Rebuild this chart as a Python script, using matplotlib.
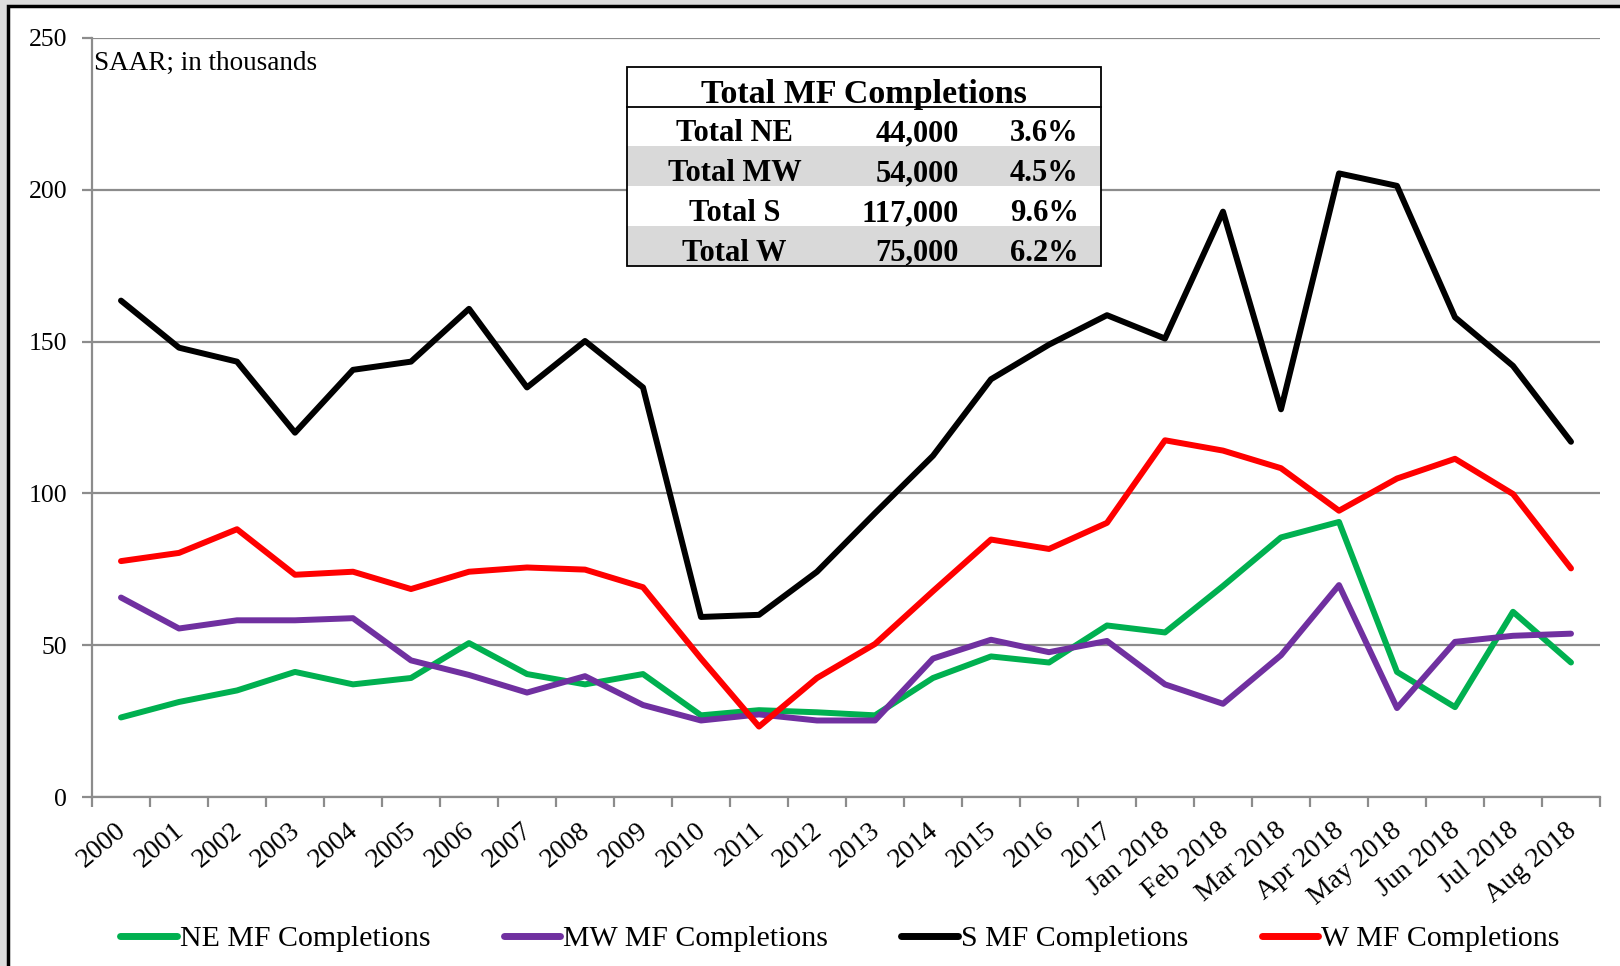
import numpy as np
import matplotlib.pyplot as plt
import matplotlib.transforms as mtransforms
from matplotlib.patches import Rectangle

plt.rcParams['font.family'] = ['Liberation Serif', 'DejaVu Serif']

# Categories
labels = [str(y) for y in range(2000, 2018)] + [
    'Jan 2018', 'Feb 2018', 'Mar 2018', 'Apr 2018',
    'May 2018', 'Jun 2018', 'Jul 2018', 'Aug 2018']

# Series values (SAAR, thousands)
ne = [26.2, 31.3, 35.1, 41.2, 37.1, 39.2, 50.7, 40.5, 37.1, 40.5, 26.9, 28.6, 27.9,
      26.9, 39.2, 46.3, 44.3, 56.5, 54.2, 69.5, 85.5, 90.6, 41.2, 29.6, 61.0, 44.3]
mw = [65.7, 55.5, 58.2, 58.2, 58.9, 45.0, 40.2, 34.4, 39.8, 30.3, 25.2, 27.2, 25.2,
      25.2, 45.6, 51.8, 47.7, 51.4, 37.1, 30.7, 46.7, 69.8, 29.3, 51.1, 53.1, 53.8]
s = [163.5, 148.0, 143.4, 120.0, 140.7, 143.4, 160.8, 134.9, 150.2, 134.9, 59.3, 60.0,
     74.2, 93.5, 112.4, 137.6, 149.0, 158.7, 151.0, 192.8, 127.7, 205.4, 201.3, 158.0,
     142.0, 117.0]
w = [77.7, 80.4, 88.2, 73.2, 74.2, 68.5, 74.2, 75.6, 74.9, 69.1, 45.6, 23.2, 39.2,
     50.4, 67.8, 84.8, 81.7, 90.3, 117.5, 114.1, 108.3, 94.3, 104.9, 111.4, 99.8, 75.3]

# Inset table
table_title = 'Total MF Completions'
table_names = ['Total NE', 'Total MW', 'Total S', 'Total W']
table_totals = ['44,000', '54,000', '117,000', '75,000']
table_shares = ['3.6%', '4.5%', '9.6%', '6.2%']

fig = plt.figure(figsize=(16.2, 9.66), dpi=100, facecolor='#dcdcdc')
# white chart panel with black frame
fig.patches.append(Rectangle((8 / 1620, -0.01), 1.0, 1 - 6 / 966 + 0.01,
                             transform=fig.transFigure, facecolor='white',
                             edgecolor='black', linewidth=2.5, zorder=-10))

ax = fig.add_axes([92 / 1620, 1 - 797 / 966, (1600 - 92) / 1620, (797 - 38) / 966])
ax.set_facecolor('none')

x = np.arange(len(labels))
ax.plot(x, ne, color='#00B050', lw=4.3, label='NE MF Completions', solid_capstyle='round')
ax.plot(x, mw, color='#7030A0', lw=4.3, label='MW MF Completions', solid_capstyle='round')
ax.plot(x, s, color='black', lw=4.3, label='S MF Completions', solid_capstyle='round')
ax.plot(x, w, color='#FF0000', lw=4.3, label='W MF Completions', solid_capstyle='round')

ax.set_xlim(-0.5, len(labels) - 0.5)
ax.set_ylim(0, 250)
ax.set_yticks(range(0, 251, 50))
ax.yaxis.grid(True, color='#8c8c8c', lw=1.6)
ax.set_axisbelow(True)

ax.set_xticks(x)
ax.set_xticklabels(labels, rotation=40, ha='right', rotation_mode='anchor')
ax.set_xticks(np.arange(-0.5, len(labels), 1), minor=True)
ax.tick_params(axis='x', which='major', length=0, pad=15, labelsize=20)
ax.tick_params(axis='x', which='minor', length=7, color='#8c8c8c', width=1.6, direction='out')
ax.tick_params(axis='y', length=7, color='#8c8c8c', width=1.6, labelsize=18.5, pad=11)
shift = mtransforms.ScaledTranslation(-6 / 100, 0, fig.dpi_scale_trans)
for lab in ax.get_xticklabels():
    lab.set_transform(lab.get_transform() + shift)

for side in ['top', 'right']:
    ax.spines[side].set_visible(False)
for side in ['left', 'bottom']:
    ax.spines[side].set_color('#8c8c8c')
    ax.spines[side].set_linewidth(1.6)

ax.text(0.001, 0.966, 'SAAR; in thousands', transform=ax.transAxes, fontsize=19.5,
        ha='left', va='center')

# table drawn in axes fraction coordinates
tx0, tx1 = (627 - 92) / 1508, (1101 - 92) / 1508
ty_top = (797 - 67) / 759
row_h = 39.8 / 759
title_h = 39.5 / 759
ty_bot = ty_top - title_h - 4 * row_h
for i in range(4):
    y0 = ty_top - title_h - (i + 1) * row_h
    fc = '#d9d9d9' if i % 2 == 1 else 'white'
    ax.add_patch(Rectangle((tx0, y0), tx1 - tx0, row_h, transform=ax.transAxes,
                           facecolor=fc, edgecolor='none', zorder=5))
ax.add_patch(Rectangle((tx0, ty_top - title_h), tx1 - tx0, title_h, transform=ax.transAxes,
                       facecolor='white', edgecolor='none', zorder=5))
ax.add_patch(Rectangle((tx0, ty_bot), tx1 - tx0, ty_top - ty_bot, transform=ax.transAxes,
                       facecolor='none', edgecolor='black', lw=1.3, zorder=6))
ax.plot([tx0, tx1], [ty_top - title_h] * 2, transform=ax.transAxes, color='black',
        lw=1.3, zorder=6)
ax.text((tx0 + tx1) / 2, ty_top - title_h / 2 - 0.010, table_title, transform=ax.transAxes,
        fontsize=24.5, fontweight='bold', ha='center', va='center', zorder=7)
for i in range(4):
    yc = ty_top - title_h - (i + 0.5) * row_h - 0.010
    ax.text((711 * 1.0332 - 92) / 1508, yc, table_names[i], transform=ax.transAxes,
            fontsize=22, fontweight='bold', ha='center', va='center', zorder=7)
    ax.text((928 * 1.0332 - 92) / 1508, yc, table_totals[i], transform=ax.transAxes,
            fontsize=22, fontweight='bold', ha='right', va='center', zorder=7)
    ax.text((1044 * 1.0332 - 92) / 1508, yc, table_shares[i], transform=ax.transAxes,
            fontsize=22, fontweight='bold', ha='right', va='center', zorder=7)

leg = fig.legend(loc='center', bbox_to_anchor=(0.5185, 1 - 939 / 966), ncol=4, frameon=False,
                 fontsize=21.5, handlelength=1.9, handletextpad=0.1, columnspacing=2.45)
for h in leg.get_lines():
    h.set_linewidth(5)

fig.savefig('out.png', dpi=100, facecolor=fig.get_facecolor())
